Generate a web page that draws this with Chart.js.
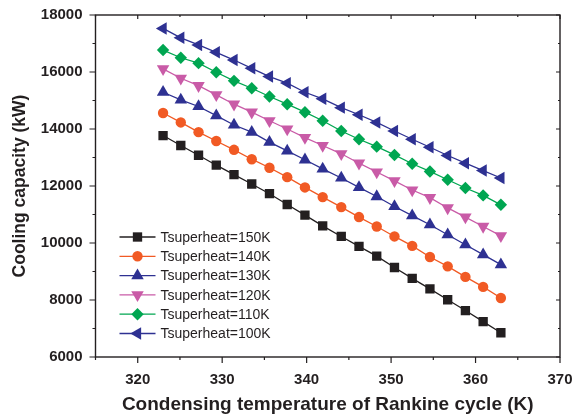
<!DOCTYPE html>
<html>
<head>
<meta charset="utf-8">
<script src="https://cdn.jsdelivr.net/npm/chart.js@4.4.1/dist/chart.umd.min.js"></script>
<style>
  html, body { margin: 0; padding: 0; background: #fff; }
  #wrap { width: 573px; height: 416px; }
</style>
</head>
<body>
<div id="wrap"><canvas id="c" width="573" height="416"></canvas></div>
<script>
// condensing temperature of the Rankine cycle (K)
var condTemp = [323.0, 325.1, 327.2, 329.3, 331.4, 333.5, 335.6, 337.7, 339.8, 341.9,
                344.1, 346.2, 348.3, 350.4, 352.5, 354.6, 356.7, 358.8, 360.9, 363.0];

// cooling capacity (kW) for each superheat temperature
var cap150 = [13770, 13420, 13080, 12730, 12400, 12070, 11730, 11350, 10980, 10600,
              10230, 9880, 9540, 9140, 8760, 8390, 8010, 7630, 7240, 6850];
var cap140 = [14560, 14230, 13890, 13580, 13270, 12940, 12640, 12310, 11950, 11610,
              11260, 10910, 10580, 10230, 9900, 9510, 9180, 8810, 8460, 8070];
var cap130 = [15290, 15020, 14790, 14470, 14140, 13890, 13540, 13230, 12920, 12600,
              12280, 11950, 11630, 11280, 10960, 10640, 10290, 9940, 9590, 9240];
var cap120 = [16110, 15780, 15520, 15200, 14870, 14590, 14290, 14000, 13700, 13420,
              13130, 12800, 12490, 12180, 11860, 11590, 11230, 10910, 10580, 10250];
var cap110 = [16770, 16500, 16310, 15990, 15690, 15430, 15140, 14870, 14590, 14290,
              13930, 13640, 13380, 13090, 12780, 12510, 12220, 11930, 11670, 11340];
var cap100 = [17530, 17200, 16950, 16690, 16420, 16130, 15840, 15610, 15290, 15060,
              14750, 14500, 14230, 13930, 13640, 13360, 13070, 12800, 12540, 12280];

var seriesLabels = ["Tsuperheat=150K", "Tsuperheat=140K", "Tsuperheat=130K",
                    "Tsuperheat=120K", "Tsuperheat=110K", "Tsuperheat=100K"];

var xMajorTicks = [320, 330, 340, 350, 360, 370];
var xMinorTicks = [315, 325, 335, 345, 355, 365];
var yMajorTicks = [6000, 8000, 10000, 12000, 14000, 16000, 18000];
var yMinorTicks = [7000, 9000, 11000, 13000, 15000, 17000];

var INK = "#231f20";
var FONT = "'Liberation Sans', Arial, Helvetica, sans-serif";

function makeSet(label, values, color, style, rotation, radius) {
  return {
    label: label,
    data: condTemp.map(function (t, i) { return { x: t, y: values[i] }; }),
    borderColor: color,
    backgroundColor: color,
    borderWidth: 1.3,
    pointStyle: style,
    rotation: rotation,
    pointRadius: radius,
    pointBorderWidth: 0,
    pointHoverRadius: radius,
    showLine: true,
    tension: 0
  };
}

var datasets = [
  makeSet(seriesLabels[0], cap150, "#231f20", "rect", 0, 6.6),
  makeSet(seriesLabels[1], cap140, "#f15a24", "circle", 0, 5.2),
  makeSet(seriesLabels[2], cap130, "#2e3192", "triangle", 0, 7.2),
  makeSet(seriesLabels[3], cap120, "#c95ba7", "triangle", 180, 7.2),
  makeSet(seriesLabels[4], cap110, "#00a651", "rectRot", 0, 6.2),
  makeSet(seriesLabels[5], cap100, "#2e3192", "triangle", -90, 7.2)
];

// frame box with major / minor ticks on all four sides
var framePlugin = {
  id: "frame",
  beforeDatasetsDraw: function (chart) {
    var ctx = chart.ctx, a = chart.chartArea;
    var xs = chart.scales.x, ys = chart.scales.y;
    ctx.save();
    ctx.strokeStyle = INK;
    ctx.lineWidth = 1.4;
    ctx.strokeRect(a.left, a.top, a.right - a.left, a.bottom - a.top);
    ctx.lineWidth = 1.2;
    ctx.beginPath();
    function xt(list, outLen, inLen) {
      list.forEach(function (v) {
        var px = xs.getPixelForValue(v);
        ctx.moveTo(px, a.bottom); ctx.lineTo(px, a.bottom + outLen);
        ctx.moveTo(px, a.top); ctx.lineTo(px, a.top + inLen);
      });
    }
    function yt(list, outLen, inLen) {
      list.forEach(function (v) {
        var py = ys.getPixelForValue(v);
        ctx.moveTo(a.left, py); ctx.lineTo(a.left - outLen, py);
        ctx.moveTo(a.right, py); ctx.lineTo(a.right - inLen, py);
      });
    }
    xt(xMajorTicks, 6, 4);
    xt(xMinorTicks, 3, 2);
    yt(yMajorTicks, 6, 4);
    yt(yMinorTicks, 3, 2);
    ctx.stroke();
    ctx.restore();
  }
};

// legend in the lower-left of the plot: line sample with marker in its middle
var legendPlugin = {
  id: "lineLegend",
  afterDatasetsDraw: function (chart) {
    var ctx = chart.ctx, a = chart.chartArea;
    ctx.save();
    ctx.font = "14px " + FONT;
    ctx.textBaseline = "middle";
    ctx.textAlign = "left";
    chart.data.datasets.forEach(function (ds, i) {
      var y = a.top + 222 + i * 19.3;
      var x0 = a.left + 24, x1 = a.left + 60;
      ctx.strokeStyle = ds.borderColor;
      ctx.lineWidth = ds.borderWidth;
      ctx.beginPath();
      ctx.moveTo(x0, y); ctx.lineTo(x1, y);
      ctx.stroke();
      ctx.fillStyle = ds.backgroundColor;
      Chart.helpers.drawPoint(ctx, {
        pointStyle: ds.pointStyle,
        rotation: ds.rotation,
        radius: ds.pointRadius,
        borderWidth: 0
      }, (x0 + x1) / 2, y);
      ctx.fillStyle = INK;
      ctx.fillText(ds.label, a.left + 65, y + 1);
    });
    ctx.restore();
  }
};

new Chart(document.getElementById("c"), {
  type: "scatter",
  data: { datasets: datasets },
  plugins: [framePlugin, legendPlugin],
  options: {
    responsive: false,
    animation: false,
    devicePixelRatio: 1,
    layout: { padding: { top: 15, right: 13, left: 0, bottom: 0 } },
    plugins: {
      legend: { display: false },
      tooltip: { enabled: false }
    },
    scales: {
      x: {
        type: "linear",
        min: 315,
        max: 370,
        afterBuildTicks: function (s) {
          s.ticks = xMajorTicks.map(function (v) { return { value: v }; });
        },
        afterFit: function (s) {
          s.height = 59;
          s.paddingLeft = 0;
          s.paddingRight = 0;
        },
        grid: { display: false, drawTicks: false },
        border: { display: false },
        ticks: {
          color: INK,
          padding: 14,
          maxRotation: 0,
          callback: function (v) { return String(v); },
          font: { family: FONT, size: 15, weight: "bold" }
        },
        title: {
          display: true,
          text: "Condensing temperature of Rankine cycle (K)",
          color: INK,
          padding: { top: 0, bottom: 0 },
          font: { family: FONT, size: 19, weight: "bold" }
        }
      },
      y: {
        type: "linear",
        min: 6000,
        max: 18000,
        afterBuildTicks: function (s) {
          s.ticks = yMajorTicks.map(function (v) { return { value: v }; });
        },
        afterFit: function (s) {
          s.width = 95.5;
          s.paddingTop = 0;
          s.paddingBottom = 0;
        },
        grid: { display: false, drawTicks: false },
        border: { display: false },
        ticks: {
          color: INK,
          padding: 13,
          callback: function (v) { return String(v); },
          font: { family: FONT, size: 15, weight: "bold" }
        },
        title: {
          display: true,
          text: "Cooling capacity (kW)",
          color: INK,
          padding: { top: 10, bottom: 4 },
          font: { family: FONT, size: 17.5, weight: "bold" }
        }
      }
    }
  }
});
</script>
</body>
</html>
